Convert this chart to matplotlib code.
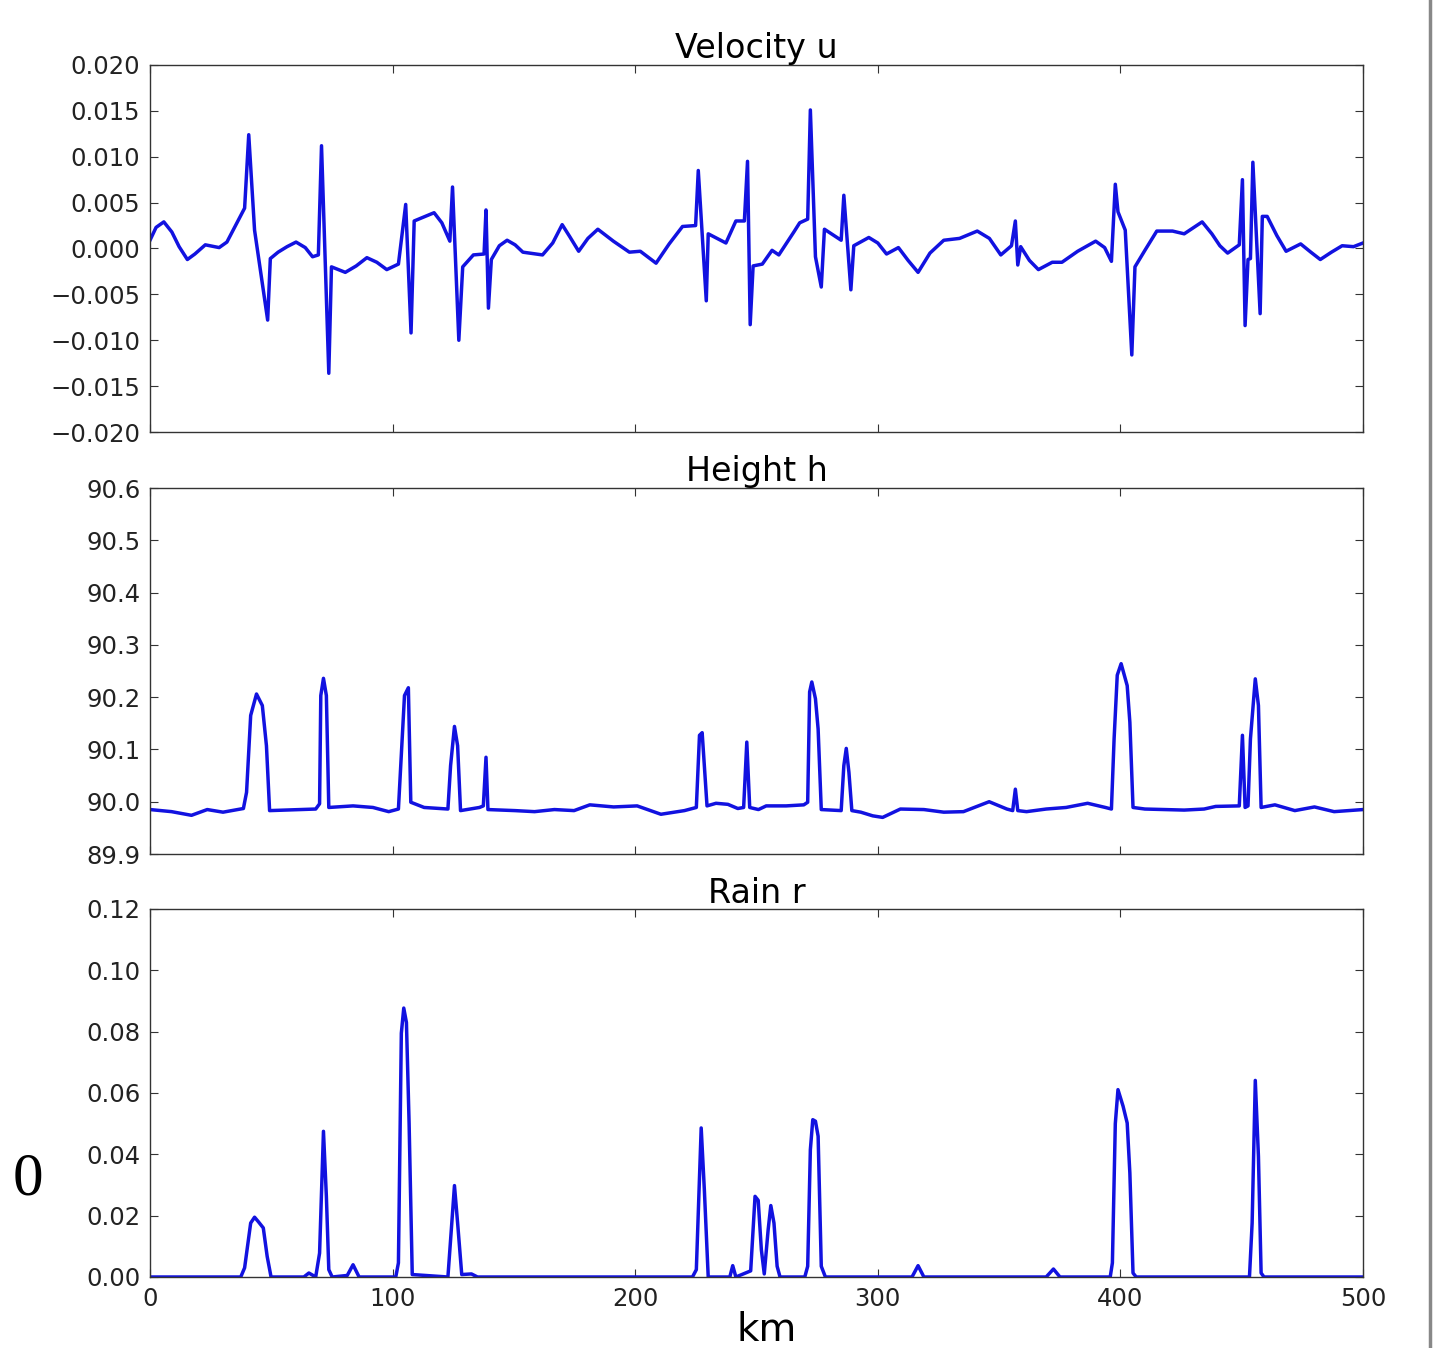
import numpy as np
import matplotlib
matplotlib.use("Agg")
import matplotlib.pyplot as plt
from matplotlib.lines import Line2D
from matplotlib.ticker import FuncFormatter

# velocity u (km, value)
u_km = [0, 2.5, 5.7, 9.0, 12.0, 15.4, 18.5, 22.8, 28.5, 31.7, 39.0, 40.7, 43.1, 48.5,
        49.6, 52.8, 56.5, 60.2, 64.0, 67.0, 69.4, 70.7, 73.7, 74.8, 80.5, 85.0, 89.4,
        93.5, 97.6, 102.4, 105.4, 107.6, 108.9, 117.1, 120.3, 123.6, 124.7, 127.3,
        128.9, 133.3, 137.7, 138.5, 139.5, 140.7, 144.0, 147.2, 150.5, 153.7, 161.8, 166.0, 169.9,
        173.0, 176.7, 180.5, 184.6, 191.0, 197.6, 202.1, 208.6, 214.0, 219.5, 224.9, 226.0, 229.3, 230.1,
        237.4, 241.5, 245.0, 246.3, 247.4, 248.6, 252.4, 256.4, 259.2, 265.4,
        267.8, 271.1, 272.2, 274.3, 276.7, 278.0, 284.9, 286.0, 288.9, 290.1,
        296.3, 300.0, 303.6, 308.5, 312.5, 316.6, 321.5, 327.2, 333.7, 341.0, 346.0, 350.7, 355.1, 356.7,
        357.7, 358.9, 362.5, 366.2, 371.9, 375.9, 382.4, 389.8, 393.5, 396.3, 397.9, 399.0,
        402.0, 404.7, 406.0, 410.1, 415.0, 421.5, 426.3, 433.7, 437.7, 441.0, 444.2,
        449.0, 450.3, 451.4, 452.6, 453.6, 454.6, 457.6, 458.5, 460.5, 464.5, 468.3,
        474.3, 478.5, 482.4, 487.0, 491.4, 496.1, 500]
u_val = [0.0009, 0.0023, 0.0029, 0.0018, 0.0002, -0.0012, -0.0006, 0.0004, 0.0001, 0.0007, 0.0044, 0.0124, 0.0020, -0.0078,
         -0.0011, -0.0004, 0.0002, 0.0007, 0.0001, -0.0009, -0.0007, 0.0112, -0.0136, -0.0020, -0.0026, -0.0019, -0.0010,
         -0.0015, -0.0023, -0.0017, 0.0048, -0.0092, 0.0030, 0.0039, 0.0028, 0.0008, 0.0067, -0.0100,
         -0.0020, -0.0007, -0.0006, 0.0042, -0.0065, -0.0012, 0.0003, 0.0009, 0.0004, -0.0004, -0.0007, 0.0006, 0.0026,
         0.0013, -0.0003, 0.0011, 0.0021, 0.0008, -0.0004, -0.0003, -0.0016, 0.0005, 0.0024, 0.0025, 0.0085, -0.0057, 0.0016,
         0.0006, 0.0030, 0.0030, 0.0095, -0.0083, -0.0019, -0.0017, -0.0002, -0.0007, 0.0018,
         0.0028, 0.0032, 0.0151, -0.0009, -0.0042, 0.0021, 0.0009, 0.0058, -0.0045, 0.0003,
         0.0012, 0.0006, -0.0006, 0.0001, -0.0013, -0.0026, -0.0005, 0.0009, 0.0011, 0.0019, 0.0011, -0.0007, 0.0003, 0.0030,
         -0.0018, 0.0002, -0.0013, -0.0023, -0.0015, -0.0015, -0.0003, 0.0008, 0.0001, -0.0014, 0.0070, 0.0040,
         0.0020, -0.0116, -0.0020, -0.0002, 0.0019, 0.0019, 0.0016, 0.0029, 0.0016, 0.0003, -0.0005,
         0.0004, 0.0075, -0.0084, -0.0012, -0.0011, 0.0094, -0.0071, 0.0035, 0.0035, 0.0014, -0.0003,
         0.0005, -0.0004, -0.0012, -0.0004, 0.0003, 0.0002, 0.0006]

# height h
h_km = [0, 8.9, 17.1, 23.6, 30.1, 38.5,
        39.8, 41.5, 43.9, 46.3, 48.0, 49.3,
        68.3, 69.9, 70.4, 71.5, 72.7, 73.7,
        83.7, 91.9, 98.4, 102.4, 104.9, 106.5, 107.5,
        113.0, 122.8, 123.9, 125.5, 126.8, 128.0,
        135.8, 137.4, 138.5, 139.3,
        150.4, 158.5, 166.7, 174.8, 181.3, 191.1, 200.8, 210.6, 220.3, 225.2,
        226.5, 227.6, 229.6, 233.3, 238.2, 242.3, 244.7, 246.0, 247.2,
        250.8, 254.0, 262.2, 269.5, 271.1, 271.9, 272.8, 274.3, 275.4, 276.7,
        284.9, 286.0, 287.0, 288.1, 289.3,
        293.0, 297.9, 302.0, 309.3, 319.0, 327.2, 335.3, 345.9, 353.2, 355.6, 356.7, 357.7, 361.3,
        369.4, 377.6, 386.5, 393.8, 396.3, 397.4, 398.7, 400.3, 402.8, 403.9, 405.2,
        410.1, 418.2, 426.3, 434.5, 439.3, 449.0, 450.3, 451.4, 452.6, 453.6, 455.6, 456.9, 458.0,
        463.7, 471.9, 480.0, 488.1, 500]
h_val = [89.985, 89.981, 89.974, 89.985, 89.980, 89.987,
         90.018, 90.165, 90.206, 90.184, 90.107, 89.983,
         89.986, 89.996, 90.203, 90.236, 90.203, 89.989,
         89.992, 89.989, 89.981, 89.986, 90.203, 90.218, 89.999,
         89.989, 89.986, 90.069, 90.144, 90.107, 89.983,
         89.989, 89.992, 90.085, 89.985,
         89.983, 89.981, 89.985, 89.983, 89.994, 89.990, 89.992, 89.976, 89.983, 89.989,
         90.127, 90.132, 89.992, 89.997, 89.995, 89.987, 89.989, 90.114, 89.989,
         89.985, 89.992, 89.992, 89.994, 89.999, 90.210, 90.229, 90.197, 90.139, 89.985,
         89.983, 90.069, 90.102, 90.056, 89.983,
         89.980, 89.973, 89.970, 89.986, 89.985, 89.980, 89.981, 90.000, 89.986, 89.983, 90.024, 89.983, 89.981,
         89.986, 89.989, 89.997, 89.989, 89.986, 90.120, 90.242, 90.264, 90.222, 90.152, 89.989,
         89.986, 89.985, 89.984, 89.986, 89.991, 89.992, 90.127, 89.989, 89.992, 90.120, 90.235, 90.184, 89.989,
         89.994, 89.983, 89.990, 89.981, 89.985]

# rain r
r_km = [0, 37.4, 39.0, 41.5, 43.1, 44.7, 46.7, 48.3, 49.9,
        63.4, 65.5, 68.3, 69.9, 71.5, 72.7, 73.7, 75.1,
        81.3, 83.7, 86.2, 101.3, 102.4, 103.6, 104.6, 105.7, 106.8, 108.1,
        122.8, 124.4, 125.5, 126.8, 128.5, 132.5, 135.0,
        223.6, 225.2, 227.2, 228.5, 230.1, 239.0, 240.2, 241.5,
        247.6, 249.4, 250.7, 252.0, 253.2, 254.8, 255.9, 257.2, 258.5, 259.7,
        269.9, 271.1, 272.2, 273.2, 274.3, 275.4, 276.7, 278.4,
        314.1, 316.6, 319.0, 369.4, 372.4, 375.1,
        395.8, 396.7, 397.9, 399.0, 401.1, 402.8, 403.9, 405.2, 406.5,
        453.2, 454.3, 455.6, 456.9, 458.0, 459.2, 500]
r_val = [0, 0, 0.003, 0.0176, 0.0195, 0.018, 0.016, 0.0067, 0,
         0, 0.0013, 0, 0.0078, 0.0475, 0.0263, 0.0024, 0,
         0.0005, 0.004, 0, 0, 0.0046, 0.0795, 0.0877, 0.083, 0.0502, 0.0008,
         0, 0.0176, 0.0298, 0.0176, 0.0008, 0.001, 0,
         0, 0.0024, 0.0486, 0.0285, 0, 0, 0.0037, 0,
         0.002, 0.0263, 0.025, 0.0089, 0.001, 0.0154, 0.0233, 0.0176, 0.0035, 0,
         0, 0.0035, 0.0415, 0.0513, 0.0508, 0.0459, 0.0035, 0,
         0, 0.0037, 0, 0, 0.0026, 0,
         0, 0.0046, 0.05, 0.0611, 0.0557, 0.0502, 0.0339, 0.0013, 0,
         0, 0.0176, 0.0641, 0.0393, 0.0013, 0, 0]

titles = ["Velocity u", "Height h", "Rain r"]
x_ticks = [0, 100, 200, 300, 400, 500]

W, H = 1433, 1348
fig = plt.figure(figsize=(W / 100, H / 100), dpi=100)

def px_axes(top, bottom, left=150, right=1363):
    return fig.add_axes([left / W, 1 - bottom / H, (right - left) / W, (bottom - top) / H])

def fmt(digits):
    return FuncFormatter(lambda v, pos: f"{v:.{digits}f}".replace("-", "\u2212"))

ax1 = px_axes(65, 432)
ax2 = px_axes(488, 854)
ax3 = px_axes(909, 1277)

line_color = "#1212e0"
ax1.plot(u_km, u_val, color=line_color, lw=2.5)
ax2.plot(h_km, h_val, color=line_color, lw=2.5)
ax3.plot(r_km, r_val, color=line_color, lw=2.5)

ax1.set_ylim(-0.02, 0.02)
ax1.set_yticks(np.arange(-0.02, 0.0201, 0.005))
ax1.yaxis.set_major_formatter(fmt(3))
ax2.set_ylim(89.9, 90.6)
ax2.set_yticks(np.arange(89.9, 90.61, 0.1))
ax2.yaxis.set_major_formatter(fmt(1))
ax3.set_ylim(0, 0.12)
ax3.set_yticks(np.arange(0, 0.121, 0.02))
ax3.yaxis.set_major_formatter(fmt(2))

for ax, title in zip([ax1, ax2, ax3], titles):
    ax.set_xlim(0, 500)
    ax.set_xticks(x_ticks)
    ax.tick_params(direction="in", top=True, right=True, length=6, width=0.8,
                   labelsize=17.5, pad=7, color="#333333", labelcolor="#222222")
    for s in ax.spines.values():
        s.set_color("#333333")
        s.set_linewidth(1.0)
    ax.set_title(title, fontsize=24, pad=4)

ax1.tick_params(labelbottom=False)
ax2.tick_params(labelbottom=False)

fig.text(767 / W, 1 - 1330 / H, "km", fontsize=28, ha="center", va="center")
fig.text(28 / W, 1 - 1180 / H, "0", fontsize=44, family="Liberation Serif",
         ha="center", va="center")
fig.add_artist(Line2D([1430 / W, 1430 / W], [0, 1], transform=fig.transFigure,
                      color="#888888", lw=2.5))

fig.savefig("out.png", dpi=100, facecolor="white")
